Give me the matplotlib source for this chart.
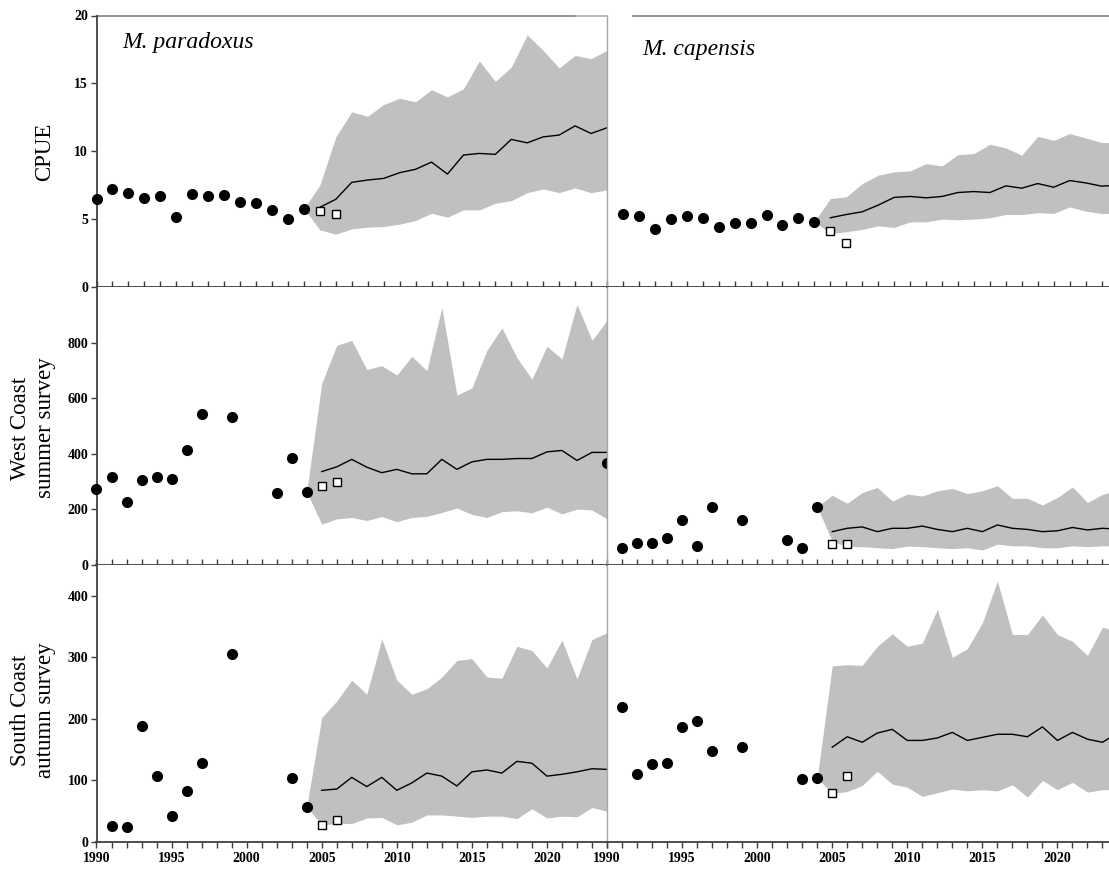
#!/usr/bin/env python3

import numpy as np
import matplotlib
matplotlib.use('Agg')
import matplotlib.pyplot as plt

plt.rcParams['font.family'] = ['Liberation Serif', 'DejaVu Serif']
plt.rcParams['font.weight'] = 'bold'

# projection years
proj_2023 = list(range(2005, 2024))
proj_2024 = list(range(2005, 2025))

# CPUE, M. paradoxus
cpue_par_years = list(range(1991, 2005))
cpue_par_obs = [6.46, 7.2, 6.95, 6.54, 6.7, 5.14, 6.85, 6.7, 6.8, 6.29, 6.17, 5.68, 4.99, 5.78]
cpue_par_new = [5.6, 5.38]
cpue_par_med = [5.87, 6.46, 7.71, 7.88, 8.0, 8.42, 8.67, 9.2, 8.32, 9.72, 9.84, 9.77,
                10.87, 10.62, 11.06, 11.19, 11.87, 11.31, 11.73]
cpue_par_hi = [7.5, 11.06, 12.9, 12.58, 13.44, 13.9, 13.64, 14.54, 14.0, 14.6, 16.65, 15.15,
               16.2, 18.56, 17.43, 16.13, 17.06, 16.82, 17.43]
cpue_par_lo = [4.21, 3.89, 4.28, 4.41, 4.46, 4.63, 4.9, 5.43, 5.14, 5.68, 5.68, 6.17,
               6.36, 6.95, 7.22, 6.95, 7.3, 6.95, 7.15]

# CPUE, M. capensis
cpue_cap_years = list(range(1992, 2005))
cpue_cap_obs = [5.37, 5.22, 4.26, 5.0, 5.22, 5.05, 4.44, 4.68, 4.68, 5.29, 4.6, 5.05, 4.8]
cpue_cap_new = [4.12, 3.26]
cpue_cap_med = [5.1, 5.34, 5.54, 6.03, 6.6, 6.67, 6.57, 6.67, 6.96, 7.03, 6.96, 7.45,
                7.28, 7.62, 7.35, 7.84, 7.67, 7.43, 7.5]
cpue_cap_hi = [6.52, 6.64, 7.62, 8.24, 8.48, 8.55, 9.09, 8.92, 9.75, 9.83, 10.51, 10.25,
               9.71, 11.1, 10.8, 11.3, 10.98, 10.64, 10.64]
cpue_cap_lo = [3.95, 4.07, 4.24, 4.51, 4.39, 4.8, 4.8, 5.0, 4.95, 5.0, 5.1, 5.34,
               5.34, 5.47, 5.42, 5.9, 5.59, 5.42, 5.42]

# West Coast summer survey, M. paradoxus
wcs_par_years = [1990, 1991, 1992, 1993, 1994, 1995, 1996, 1997, 1999, 2002, 2003, 2004, 2024]
wcs_par_obs = [272, 315, 225, 307, 315, 310, 413, 543, 534, 260, 386, 263, 367]
wcs_par_new = [283, 299]
wcs_par_med = [336, 353, 380, 352, 332, 344, 328, 328, 380, 344, 371, 380, 380, 383,
               383, 407, 412, 376, 405, 405]
wcs_par_hi = [653, 790, 808, 703, 717, 683, 751, 699, 926, 611, 637, 772, 853, 746,
              668, 787, 741, 938, 808, 880]
wcs_par_lo = [147, 166, 171, 160, 174, 156, 171, 175, 189, 205, 182, 171, 192, 195,
              188, 208, 184, 201, 198, 166]

# West Coast summer survey, M. capensis
wcs_cap_years = [1991, 1992, 1993, 1994, 1995, 1996, 1997, 1999, 2002, 2003, 2004]
wcs_cap_obs = [62, 78, 78, 98, 162, 69, 210, 162, 90, 62, 210]
wcs_cap_new = [74, 74]
wcs_cap_med = [120, 132, 137, 120, 132, 132, 140, 128, 120, 132, 120, 144, 132, 128,
               120, 123, 135, 126, 132, 129]
wcs_cap_hi = [251, 222, 261, 279, 230, 255, 248, 267, 275, 257, 267, 285, 240, 240,
              216, 243, 281, 225, 254, 269]
wcs_cap_lo = [85, 66, 66, 62, 59, 68, 66, 62, 59, 62, 54, 75, 69, 69,
              62, 62, 69, 66, 69, 69]

# South Coast autumn survey, M. paradoxus
sca_par_years = [1991, 1992, 1993, 1994, 1995, 1996, 1997, 1999, 2003, 2004]
sca_par_obs = [26, 24, 189, 107, 43, 83, 128, 305, 104, 57]
sca_par_new = [27, 35]
sca_par_med = [84, 86, 105, 90, 105, 84, 96, 112, 107, 91, 114, 117, 112, 131,
               128, 107, 110, 114, 119, 118]
sca_par_hi = [202, 229, 263, 240, 330, 263, 240, 249, 268, 295, 298, 268, 266, 318,
              311, 283, 328, 265, 329, 340]
sca_par_lo = [28, 30, 30, 39, 40, 28, 32, 44, 44, 42, 40, 42, 42, 38,
              54, 39, 42, 41, 56, 50]

# South Coast autumn survey, M. capensis
sca_cap_years = [1991, 1992, 1993, 1994, 1995, 1996, 1997, 1999, 2003, 2004]
sca_cap_obs = [220, 111, 127, 129, 187, 196, 148, 155, 103, 104]
sca_cap_new = [79, 108]
sca_cap_med = [154, 171, 162, 177, 183, 165, 165, 169, 178, 165, 170, 175, 175, 171,
               187, 165, 178, 167, 162, 177]
sca_cap_hi = [286, 288, 287, 318, 338, 318, 323, 378, 300, 314, 356, 424, 337, 337,
              369, 337, 326, 303, 349, 342]
sca_cap_lo = [79, 82, 92, 115, 94, 89, 74, 80, 86, 83, 85, 83, 93, 73,
              100, 85, 97, 81, 85, 85]

DARK = '#404040'
BAND = '#c0c0c0'

W, H = 1109, 873
X_LEFT, X_RIGHT, AX_W = 96.5, 607, 510.5
ROWS = [(15.5, 287), (287, 565), (565, 842)]


def make_axes(fig, x0, row):
    top, bottom = ROWS[row]
    return fig.add_axes([x0 / W, 1 - bottom / H, AX_W / W, (bottom - top) / H])


def draw_panel(ax, years, obs, new, proj, med, hi, lo):
    start = obs[years.index(2004)]
    bx = [2004] + proj
    ax.fill_between(bx, [start] + lo, [start] + hi, color=BAND, lw=0, zorder=1)
    ax.plot(proj, med, color='black', lw=1, zorder=2)
    ax.plot(years, obs, 'o', color='black', ms=7, zorder=3, clip_on=False)
    ax.plot([2005, 2006], new, 's', mfc='white', mec='black', mew=1, ms=6,
            zorder=4, clip_on=False)


def style(ax, row, xlim, ylim, yticks, right):
    ax.set_xlim(*xlim)
    ax.set_ylim(*ylim)
    ax.set_xticks(range(int(xlim[0]), int(xlim[1]) + 1))
    if row == 2:
        ax.set_xticklabels([str(y) if y % 5 == 0 and y < 2024 else ''
                            for y in range(int(xlim[0]), int(xlim[1]) + 1)])
        ax.tick_params(axis='x', direction='out', length=4, width=1,
                       color=DARK, labelsize=10, pad=3)
    else:
        ax.set_xticklabels([])
        ax.tick_params(axis='x', direction='in', length=4, width=1, color=DARK)
    ax.spines['bottom'].set_color(DARK)
    ax.spines['bottom'].set_linewidth(1.3)
    ax.spines['right'].set_visible(False)
    ax.spines['top'].set_visible(False)
    if right:
        ax.set_yticks([])
        ax.spines['left'].set_color('#a6a6a6')
        ax.spines['left'].set_linewidth(1)
    else:
        ax.set_yticks(yticks)
        ax.tick_params(axis='y', direction='out', length=4, width=1,
                       color=DARK, labelsize=10, pad=2)
        ax.spines['left'].set_color(DARK)
        ax.spines['left'].set_linewidth(1.3)


def main():
    fig = plt.figure(figsize=(W / 100, H / 100), dpi=100)

    panels = [
        (0, False, (1991, 2023), (0, 20), [0, 5, 10, 15, 20],
         (cpue_par_years, cpue_par_obs, cpue_par_new, proj_2023, cpue_par_med, cpue_par_hi, cpue_par_lo)),
        (1, False, (1990, 2024), (0, 1000), [0, 200, 400, 600, 800],
         (wcs_par_years, wcs_par_obs, wcs_par_new, proj_2024, wcs_par_med, wcs_par_hi, wcs_par_lo)),
        (2, False, (1990, 2024), (0, 450), [0, 100, 200, 300, 400],
         (sca_par_years, sca_par_obs, sca_par_new, proj_2024, sca_par_med, sca_par_hi, sca_par_lo)),
        (0, True, (1991, 2023), (0, 20), [],
         (cpue_cap_years, cpue_cap_obs, cpue_cap_new, proj_2023, cpue_cap_med, cpue_cap_hi, cpue_cap_lo)),
        (1, True, (1990, 2024), (0, 1000), [],
         (wcs_cap_years, wcs_cap_obs, wcs_cap_new, proj_2024, wcs_cap_med, wcs_cap_hi, wcs_cap_lo)),
        (2, True, (1990, 2024), (0, 450), [],
         (sca_cap_years, sca_cap_obs, sca_cap_new, proj_2024, sca_cap_med, sca_cap_hi, sca_cap_lo)),
    ]

    axes = {}
    for row, right, xlim, ylim, yticks, data in panels:
        ax = make_axes(fig, X_RIGHT if right else X_LEFT, row)
        draw_panel(ax, *data)
        style(ax, row, xlim, ylim, yticks, right)
        axes[(row, right)] = ax

    # top borders of the CPUE panels
    axl = axes[(0, False)]
    axl.plot([0, 0.94], [1, 1], color='#7f7f7f', lw=1.2, transform=axl.transAxes, clip_on=False)
    axl.plot([0.94, 1], [1, 1], color='#b0b0b0', lw=1.2, transform=axl.transAxes, clip_on=False)
    axr = axes[(0, True)]
    axr.plot([0.051, 1], [1, 1], color='#7f7f7f', lw=1.2, transform=axr.transAxes, clip_on=False)

    axl.text(0.05, 0.9, 'M. paradoxus', transform=axl.transAxes, fontsize=17,
             style='italic', fontweight='normal', va='center')
    axr.text(0.07, 0.875, 'M. capensis', transform=axr.transAxes, fontsize=17,
             style='italic', fontweight='normal', va='center')

    fig.text(45 / W, 1 - 152 / H, 'CPUE', rotation=90, fontsize=16.5,
             fontweight='normal', ha='center', va='center')
    fig.text(33 / W, 1 - 428 / H, 'West Coast\nsummer survey', rotation=90,
             fontsize=16.5, fontweight='normal', ha='center', va='center',
             linespacing=1.2)
    fig.text(33 / W, 1 - 710 / H, 'South Coast\nautumn survey', rotation=90,
             fontsize=16.5, fontweight='normal', ha='center', va='center',
             linespacing=1.2)

    fig.savefig('out.png', dpi=100)


if __name__ == '__main__':
    main()
